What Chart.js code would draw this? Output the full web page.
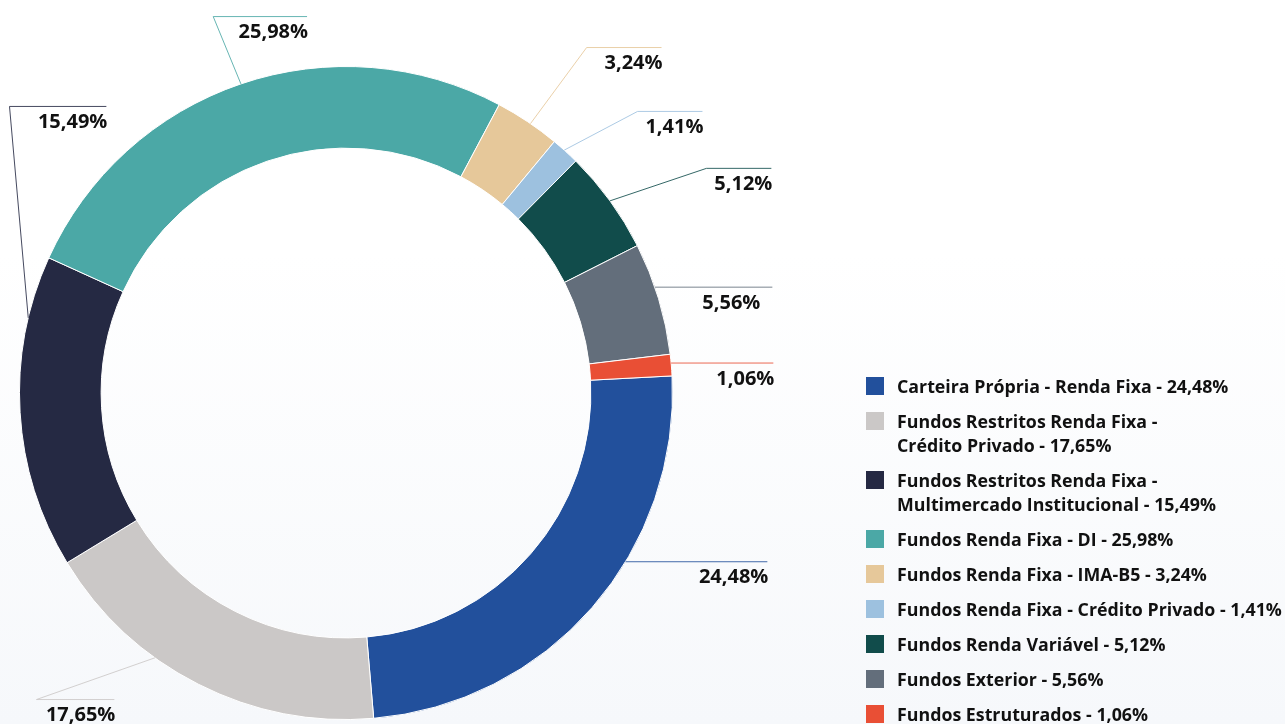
<!DOCTYPE html>
<html lang="pt-BR">
<head>
<meta charset="utf-8">
<title>Alocação</title>
<script src="https://cdn.jsdelivr.net/npm/chart.js@4.4.1/dist/chart.umd.min.js"></script>
<style>
  html, body { margin: 0; padding: 0; }
  body {
    width: 1285px; height: 724px; overflow: hidden; position: relative;
    background: linear-gradient(to bottom, #ffffff 0%, #ffffff 35%, #f6f8fb 100%);
    font-family: "Open Sans", sans-serif;
  }
  #grafico { position: absolute; left: 0; top: 0; }
  #legenda {
    position: absolute; left: 866px; top: 374px;
    font-weight: 700; font-size: 17.8px; color: #111; white-space: nowrap;
  }
  .item { display: flex; align-items: flex-start; margin-bottom: 11px; line-height: 24px; }
  .caixa { width: 18px; height: 18px; margin-top: 3px; margin-right: 13px; flex: none; }
</style>
</head>
<body>
<canvas id="grafico" width="1285" height="724"></canvas>
<div id="legenda"></div>
<script>
// Categorias (linhas já quebradas como na legenda original)
const categorias = [
  ['Carteira Própria - Renda Fixa'],
  ['Fundos Restritos Renda Fixa -', 'Crédito Privado'],
  ['Fundos Restritos Renda Fixa -', 'Multimercado Institucional'],
  ['Fundos Renda Fixa - DI'],
  ['Fundos Renda Fixa - IMA-B5'],
  ['Fundos Renda Fixa - Crédito Privado'],
  ['Fundos Renda Variável'],
  ['Fundos Exterior'],
  ['Fundos Estruturados']
];
// Participação (%)
const valores = [24.48, 17.65, 15.49, 25.98, 3.24, 1.41, 5.12, 5.56, 1.06];
const cores = ['#22509C', '#CBC8C7', '#252943', '#4BA8A6', '#E6C89A', '#9DC1DF', '#114C4B', '#636E7B', '#E94F35'];

// Posição das chamadas (relativas ao centro, para raio 327)
// t = fração do arco onde a linha encosta; h = linha horizontal direto do arco
const chamadas = [
  { h: true, ey: 169, fim: 422 },
  { t: 0.64, ex: -310, ey: 307, fim: -232 },
  { t: 0.8, ex: -337, ey: -287, fim: -240 },
  { t: 0.5, ex: -133, ey: -377, fim: -39 },
  { t: 0.55, ex: 241, ey: -346, fim: 316 },
  { t: 0.45, ex: 292, ey: -282, fim: 357 },
  { t: 0.5, ex: 361, ey: -225, fim: 426 },
  { h: true, ey: -106, fim: 427, dx: -13 },
  { h: true, ey: -30, fim: 428 }
];

function formatar(v) {
  return v.toFixed(2).replace('.', ',') + '%';
}

const pluginChamadas = {
  id: 'chamadas',
  afterDatasetsDraw(chart) {
    const ctx = chart.ctx;
    const meta = chart.getDatasetMeta(0);
    ctx.save();
    ctx.font = 'bold 20px "Open Sans", sans-serif';
    ctx.textAlign = 'right';
    ctx.textBaseline = 'middle';
    meta.data.forEach((arc, i) => {
      const c = chamadas[i];
      const R = arc.outerRadius;
      const s = R / 327;
      const cx = arc.x, cy = arc.y;
      let ax, ay, bx, by;
      if (c.h) {
        by = cy + c.ey * s;
        const dy = by - cy;
        ax = cx + Math.sqrt(R * R - dy * dy);
        ay = by;
        bx = ax;
      } else {
        const a = arc.startAngle + c.t * (arc.endAngle - arc.startAngle);
        ax = cx + R * Math.cos(a);
        ay = cy + R * Math.sin(a);
        bx = cx + c.ex * s;
        by = cy + c.ey * s;
      }
      const ex = cx + c.fim * s;
      ctx.strokeStyle = cores[i];
      ctx.globalAlpha = 0.85;
      ctx.lineWidth = 1;
      ctx.beginPath();
      ctx.moveTo(ax, ay);
      ctx.lineTo(bx, by);
      ctx.lineTo(ex, by);
      ctx.stroke();
      ctx.globalAlpha = 1;
      ctx.fillStyle = '#111';
      ctx.fillText(formatar(valores[i]), ex + 1 + (c.dx || 0), by + 16);
    });
    ctx.restore();
  }
};

new Chart(document.getElementById('grafico'), {
  type: 'doughnut',
  data: {
    labels: categorias.map(c => c.join(' ')),
    datasets: [{
      data: valores,
      backgroundColor: cores,
      borderColor: '#ffffff',
      borderWidth: 1,
      hoverOffset: 0
    }]
  },
  options: {
    responsive: false,
    animation: false,
    cutout: '75%',
    rotation: 87,
    layout: { padding: { left: 19, right: 612, top: 66, bottom: 4 } },
    plugins: {
      legend: { display: false },
      tooltip: { enabled: false }
    }
  },
  plugins: [pluginChamadas]
});

// Legenda em HTML
const legenda = document.getElementById('legenda');
categorias.forEach((linhas, i) => {
  const item = document.createElement('div');
  item.className = 'item';
  const caixa = document.createElement('div');
  caixa.className = 'caixa';
  caixa.style.background = cores[i];
  const texto = document.createElement('div');
  const partes = linhas.slice();
  partes[partes.length - 1] += ' - ' + formatar(valores[i]);
  texto.innerHTML = partes.join('<br>');
  item.appendChild(caixa);
  item.appendChild(texto);
  legenda.appendChild(item);
});
</script>
</body>
</html>
